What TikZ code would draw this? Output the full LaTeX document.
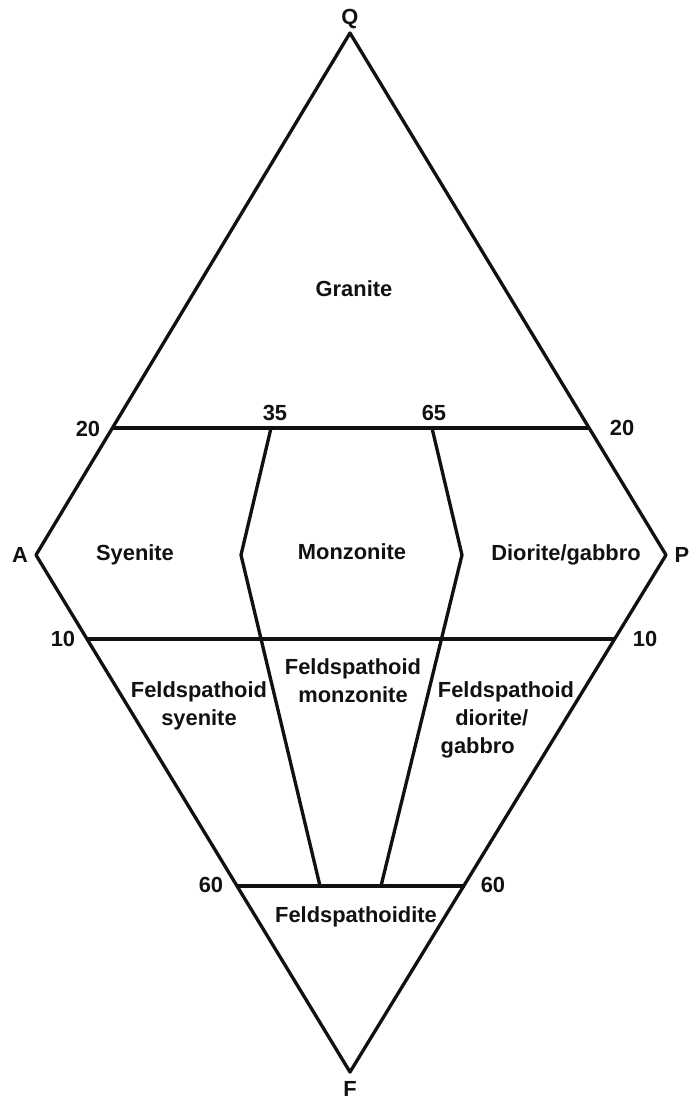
\documentclass[tikz,border=0pt]{standalone}
\usepackage{fontspec}
\setmainfont{Liberation Sans}
\usepackage{xcolor}
\usepackage{tikz}
\definecolor{ink}{HTML}{111111}

\begin{document}
\begin{tikzpicture}[x=0.75pt, y=-0.75pt,
    edge/.style={draw=ink, line width=2.5pt, line join=round},
    lbl/.style={text=ink, font=\bfseries\fontsize{16.4}{21}\selectfont, inner sep=0pt},
    field/.style={lbl, align=center}]
  \useasboundingbox (0,0) rectangle (690,1101);
  % corners of the diamond
  \coordinate (Q) at (350,33);
  \coordinate (A) at (36,555);
  \coordinate (P) at (666,555);
  \coordinate (F) at (350,1072);
  % ends of the cross lines
  \coordinate (a20) at (112,428);
  \coordinate (p20) at (589,428);
  \coordinate (a10) at (88,639);
  \coordinate (p10) at (615,639);
  \coordinate (a60) at (237,886);
  \coordinate (p60) at (465,886);
  % the two dividers
  \coordinate (s35) at (271,428);
  \coordinate (kL) at (241,555);
  \coordinate (bL) at (320,886);
  \coordinate (s65) at (432,428);
  \coordinate (kR) at (462,555);
  \coordinate (bR) at (381,886);

  \draw[edge] (Q) -- (P) -- (F) -- (A) -- cycle;
  \draw[edge] (a20) -- (p20);
  \draw[edge] (a10) -- (p10);
  \draw[edge] (a60) -- (p60);
  \draw[edge] (s35) -- (kL) -- (bL);
  \draw[edge] (s65) -- (kR) -- (bR);

  % corner and tick labels
  \node[lbl] (labQ) at (350,19) {Q};
  \node[lbl] (labA) at (20,555) {A};
  \node[lbl] (labP) at (682,555) {P};
  \node[lbl] (labF) at (350,1089) {F};
  \node[lbl] (tickA20) at (88,429) {20};
  \node[lbl] (tickP20) at (622,428) {20};
  \node[lbl] (tick35) at (275,413) {35};
  \node[lbl] (tick65) at (434,413) {65};
  \node[lbl] (tickA10) at (63,639) {10};
  \node[lbl] (tickP10) at (645,639) {10};
  \node[lbl] (tickA60) at (211,885) {60};
  \node[lbl] (tickP60) at (493,885) {60};

  % rock fields
  \node[field] (granite) at (354,289) {Granite};
  \node[field] (syenite) at (135,555) {Syenite};
  \node[field] (monzonite) at (352,552) {Monzonite};
  \node[field] (diorite) at (566,555) {Diorite/gabbro};
  \node[field] (fsyenite) at (199,706) {Feldspathoid\\syenite};
  \node[field] (fmonzonite) at (353,681) {Feldspathoid\\monzonite};
  \node[field, align=left] (fdiorite) at (506,720)
    {Feldspathoid\\\hspace*{13pt}diorite/\\\hspace*{2pt}gabbro};
  \node[field] (foidite) at (356,917) {Feldspathoidite};
\end{tikzpicture}
\end{document}
